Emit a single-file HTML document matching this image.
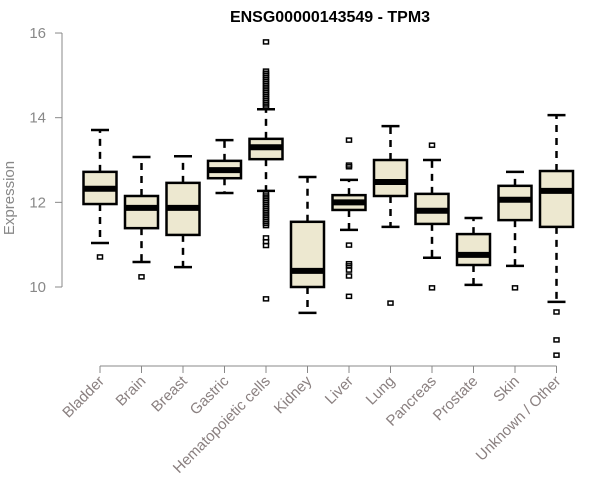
<!DOCTYPE html>
<html><head><meta charset="utf-8"><style>body{margin:0;background:#fff}svg{display:block}</style></head>
<body>
<svg id="c" width="600" height="500" xmlns="http://www.w3.org/2000/svg" font-family="Liberation Sans, sans-serif">
<text x="330" y="22" text-anchor="middle" font-weight="bold" font-size="16">ENSG00000143549 - TPM3</text>
<text transform="translate(14,198) rotate(-90)" text-anchor="middle" font-size="15" fill="#888">Expression</text>
<g id="plot"></g>
</svg>
<script>
const categories=["Bladder","Brain","Breast","Gastric","Hematopoietic cells","Kidney","Liver","Lung","Pancreas","Prostate","Skin","Unknown / Other"];
const lowWhisker=[11.04,10.59,10.47,12.22,12.27,9.39,11.35,11.42,10.69,10.05,10.5,9.65];
const q1=[11.96,11.39,11.23,12.57,13.02,10.0,11.82,12.15,11.49,10.52,11.58,11.42];
const medians=[12.32,11.87,11.87,12.76,13.3,10.38,12.0,12.48,11.8,10.76,12.06,12.27];
const q3=[12.72,12.15,12.46,12.98,13.5,11.54,12.17,13.0,12.2,11.25,12.39,12.74];
const highWhisker=[13.71,13.07,13.09,13.47,14.2,12.6,12.53,13.8,13.0,11.63,12.72,14.06];
const outliers=[[10.71],[10.24],[],[],[15.79,15.1,15.05,15.0,14.95,14.9,14.85,14.8,14.75,14.7,14.65,14.6,14.55,14.5,14.45,14.4,14.35,14.3,14.25,12.2,12.15,12.1,12.05,12.0,11.95,11.9,11.85,11.8,11.75,11.7,11.65,11.6,11.55,11.5,11.45,11.16,11.07,10.98,9.72],[],[13.47,12.88,12.84,10.99,10.55,10.5,10.4,10.26,9.78],[9.62],[13.35,9.98],[],[9.98],[9.41,8.75,8.39]];
const yTicks=[10,12,14,16];
const NS="http://www.w3.org/2000/svg";
const g=document.getElementById('plot');
const y=v=>287-(v-10)*42.33;
const x=i=>100+41.5*i;
function el(t,a){const e=document.createElementNS(NS,t);for(const k in a)e.setAttribute(k,a[k]);g.appendChild(e);return e;}
let ax=el('line',{x1:62,y1:y(16),x2:62,y2:y(10),stroke:'#888','stroke-width':1});


yTicks.forEach(t=>{
 let l=el('line',{x1:55,x2:62,y1:y(t),y2:y(t),stroke:'#888'});
 
 
 let tx=el('text',{x:46,y:y(t)+5,'text-anchor':'end','font-size':15,fill:'#888'});tx.textContent=t;
 
 
});
let xa=el('line',{x1:x(0),x2:x(11),y1:366,y2:366,stroke:'#888'});


categories.forEach((c,i)=>{
 const cx=x(i),w=33;
 let tk=el('line',{x1:cx,x2:cx,y1:366,y2:373,stroke:'#888'});
 
 
 let tx=el('text',{transform:`translate(${cx+5},${382}) rotate(-45)`,'text-anchor':'end','font-size':15,fill:'#8a8080'});tx.textContent=c;
 
 
 const wopt={stroke:'#000','stroke-width':2.5,'stroke-dasharray':'7,6'};
 let w1=el('line',Object.assign({x1:cx,x2:cx,y1:y(q3[i]),y2:y(highWhisker[i])},wopt));
 
 
 let w2=el('line',Object.assign({x1:cx,x2:cx,y1:y(q1[i]),y2:y(lowWhisker[i])},wopt));
 
 
 [highWhisker[i],lowWhisker[i]].forEach(v=>{let cap=el('line',{x1:cx-9,x2:cx+9,y1:y(v),y2:y(v),stroke:'#000','stroke-width':2.5});
 
 });
 let b=el('rect',{x:cx-w/2,y:y(q3[i]),width:w,height:y(q1[i])-y(q3[i]),fill:'#ede8d0',stroke:'#000','stroke-width':2.5});
 
 
 let m=el('line',{x1:cx-w/2,x2:cx+w/2,y1:y(medians[i]),y2:y(medians[i]),stroke:'#000','stroke-width':6});
 
 
 outliers[i].forEach(v=>{let o=el('rect',{x:cx-2.5,y:y(v)-2,width:5,height:4,fill:'none',stroke:'#000','stroke-width':1.5});
 
 });
});
</script>
</body></html>
